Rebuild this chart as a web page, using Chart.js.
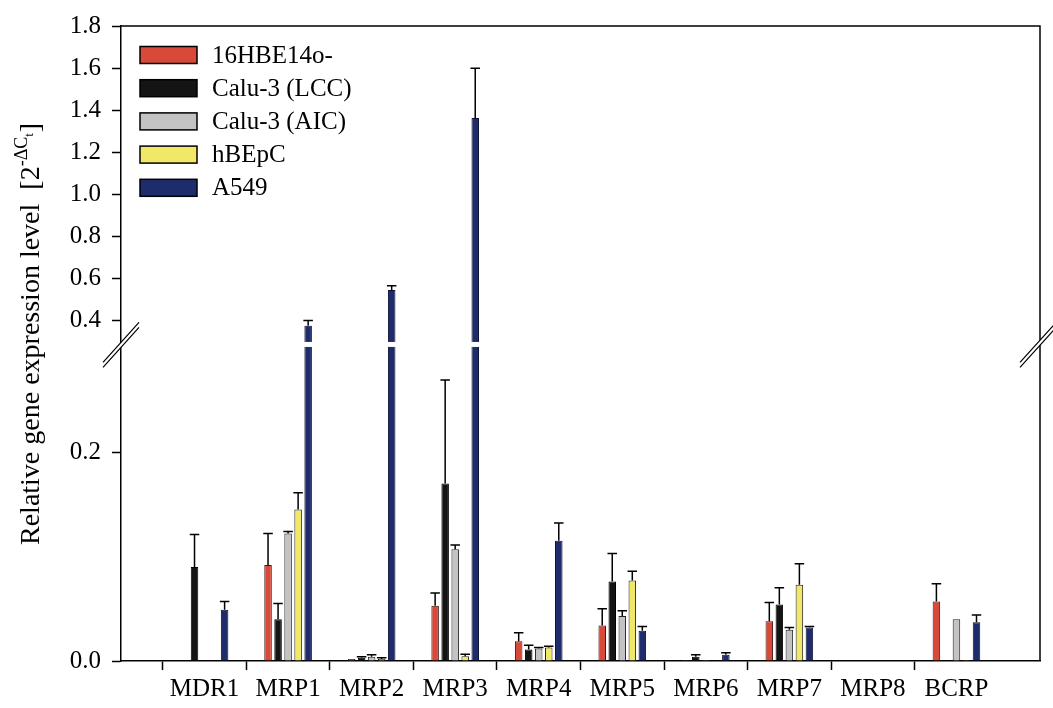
<!DOCTYPE html>
<html>
<head>
<meta charset="utf-8">
<script src="https://cdn.jsdelivr.net/npm/chart.js@4.4.0/dist/chart.umd.min.js"></script>
<style>
  html, body { margin: 0; padding: 0; background: #fff; }
</style>
</head>
<body>
<canvas id="chart" width="1053" height="708"></canvas>
<script>
const genes = ['MDR1', 'MRP1', 'MRP2', 'MRP3', 'MRP4', 'MRP5', 'MRP6', 'MRP7', 'MRP8', 'BCRP'];

// mean values (null = no bar)
const hbe14o    = [null,  0.092, 0.002, 0.053,  0.019, 0.034, 0.001, 0.038, 0.0005, 0.057];
const calu3LCC  = [0.090, 0.040, 0.003, 0.170,  0.011, 0.076, 0.004, 0.054, 0.0005, 0.001];
const calu3AIC  = [null,  0.122, 0.004, 0.107,  0.012, 0.043, 0.001, 0.030, 0.0005, 0.040];
const hBEpC     = [null,  0.145, 0.002, 0.0045, 0.013, 0.077, null,  0.073, 0.0005, 0.001];
const a549      = [0.049, 0.375, 0.545, 1.363,  0.115, 0.029, 0.006, 0.032, 0.0005, 0.037];

// upper error (SD)
const hbe14oErr   = [0,     0.030, 0,     0.012, 0.008, 0.016, 0,     0.018, 0, 0.017];
const calu3LCCErr = [0.031, 0.015, 0.001, 0.099, 0.004, 0.027, 0.002, 0.016, 0, 0];
const calu3AICErr = [0,     0.002, 0.002, 0.004, 0.001, 0.005, 0,     0.002, 0, 0];
const hBEpCErr    = [0,     0.016, 0.001, 0.002, 0.001, 0.009, 0,     0.020, 0, 0];
const a549Err     = [0.008, 0.025, 0.020, 0.236, 0.017, 0.004, 0.002, 0.001, 0, 0.007];

const yTickValues = [0, 0.2, 0.4, 0.6, 0.8, 1.0, 1.2, 1.4, 1.6, 1.8];
const yTickLabels = ['0.0', '0.2', '0.4', '0.6', '0.8', '1.0', '1.2', '1.4', '1.6', '1.8'];

// broken y axis: below 0.3 linear, above it compressed
function tf(v) {
    if (v == null) return null;
    return v <= 0.3 ? v : 0.326 + (v - 0.4) * 0.2013;
}
const BREAK_AT = 0.303;

// empty slot at each end so the groups sit one step away from the frame
function pad(arr) { return [null].concat(arr.map(tf), [null]); }
const labels = [''].concat(genes, ['']);

const FONT = 'Liberation Serif';

function ds(label, vals, errs, fill, border) {
    return {
        label: label,
        data: pad(vals),
        raw: vals,
        err: errs,
        backgroundColor: fill,
        borderColor: border,
        borderWidth: 1,
        borderSkipped: 'bottom',
        categoryPercentage: 0.6,
        barPercentage: 0.75
    };
}

const errorBars = {
    id: 'errorBars',
    afterDatasetsDraw(chart) {
        const ctx = chart.ctx;
        const y = chart.scales.y;
        ctx.save();
        ctx.strokeStyle = '#000';
        ctx.lineWidth = 1.5;
        chart.data.datasets.forEach((d, i) => {
            const meta = chart.getDatasetMeta(i);
            d.raw.forEach((v, j) => {
                const e = d.err[j];
                if (v == null || !e) return;
                const bar = meta.data[j + 1];
                const top = y.getPixelForValue(tf(v + e));
                const half = bar.width / 2 + 1;
                ctx.beginPath();
                ctx.moveTo(bar.x, bar.y);
                ctx.lineTo(bar.x, top);
                ctx.moveTo(bar.x - half, top);
                ctx.lineTo(bar.x + half, top);
                ctx.stroke();
            });
        });
        ctx.restore();
    }
};

const frameAndBreak = {
    id: 'frameAndBreak',
    afterDraw(chart) {
        const ctx = chart.ctx;
        const a = chart.chartArea;
        const by = chart.scales.y.getPixelForValue(BREAK_AT);
        ctx.save();
        // top and right edges of the frame
        ctx.strokeStyle = '#000';
        ctx.lineWidth = 1.5;
        ctx.beginPath();
        ctx.moveTo(a.left, a.top);
        ctx.lineTo(a.right, a.top);
        ctx.lineTo(a.right, a.bottom);
        ctx.stroke();
        // white gap through the bars
        ctx.fillStyle = '#fff';
        ctx.fillRect(a.left + 1, by - 2.5, a.right - a.left - 2, 5);
        // the // marks on both axes
        [a.left, a.right - 2].forEach(cx => {
            ctx.fillStyle = '#fff';
            ctx.beginPath();
            ctx.moveTo(cx - 18, by + 18);
            ctx.lineTo(cx + 18, by - 22);
            ctx.lineTo(cx + 18, by - 17);
            ctx.lineTo(cx - 18, by + 23);
            ctx.closePath();
            ctx.fill();
            ctx.strokeStyle = '#000';
            ctx.lineWidth = 1.2;
            ctx.beginPath();
            ctx.moveTo(cx - 18, by + 18);
            ctx.lineTo(cx + 18, by - 22);
            ctx.moveTo(cx - 18, by + 23);
            ctx.lineTo(cx + 18, by - 17);
            ctx.stroke();
        });
        ctx.restore();
    }
};

const boxLegend = {
    id: 'boxLegend',
    afterDraw(chart) {
        const ctx = chart.ctx;
        ctx.save();
        ctx.font = '25px "' + FONT + '"';
        ctx.textBaseline = 'middle';
        chart.data.datasets.forEach((d, i) => {
            const cy = 55 + i * 33.2;
            ctx.fillStyle = d.backgroundColor;
            ctx.fillRect(140, cy - 8.5, 57, 17);
            ctx.strokeStyle = '#000';
            ctx.lineWidth = 1.5;
            ctx.strokeRect(140, cy - 8.5, 57, 17);
            ctx.fillStyle = '#000';
            ctx.fillText(d.label, 212, cy + 1);
        });
        ctx.restore();
    }
};

const yTitle = {
    id: 'yTitle',
    afterDraw(chart) {
        const ctx = chart.ctx;
        ctx.save();
        ctx.translate(39, 545);
        ctx.rotate(-Math.PI / 2);
        ctx.fillStyle = '#000';
        ctx.textBaseline = 'alphabetic';
        ctx.font = '28px "' + FONT + '"';
        let x = 0;
        const main = 'Relative gene expression level  [2';
        ctx.fillText(main, x, 0);
        x += ctx.measureText(main).width;
        ctx.font = '18px "' + FONT + '"';
        ctx.fillText('-\u0394C', x, -12);
        x += ctx.measureText('-\u0394C').width;
        ctx.font = '13px "' + FONT + '"';
        ctx.fillText('t', x, -6);
        x += ctx.measureText('t').width + 1;
        ctx.font = '28px "' + FONT + '"';
        ctx.fillText(']', x, 0);
        ctx.restore();
    }
};

const ctx = document.getElementById('chart').getContext('2d');
new Chart(ctx, {
    type: 'bar',
    data: {
        labels: labels,
        datasets: [
            ds('16HBE14o-', hbe14o, hbe14oErr, '#d8493a', '#3a1410'),
            ds('Calu-3 (LCC)', calu3LCC, calu3LCCErr, '#141414', '#000'),
            ds('Calu-3 (AIC)', calu3AIC, calu3AICErr, '#c3c3c3', '#222'),
            ds('hBEpC', hBEpC, hBEpCErr, '#f1e868', '#222'),
            ds('A549', a549, a549Err, '#1f2c6c', '#0c1030')
        ]
    },
    options: {
        responsive: false,
        animation: false,
        devicePixelRatio: 1,
        layout: { padding: { left: 0, right: 13, top: 23, bottom: 0 } },
        plugins: {
            legend: { display: false },
            tooltip: { enabled: false }
        },
        scales: {
            x: {
                offset: false,
                afterFit: s => { s.height = 47; },
                grid: {
                    drawOnChartArea: false,
                    tickLength: 9,
                    tickWidth: 1.5,
                    tickColor: c => (c.index === 0 || c.index === labels.length - 1) ? 'rgba(0,0,0,0)' : '#000'
                },
                border: { color: '#000', width: 1.5 },
                ticks: {
                    color: '#000',
                    font: { family: FONT, size: 25 },
                    padding: 4,
                    maxRotation: 0,
                    autoSkip: false
                }
            },
            y: {
                min: 0,
                max: tf(1.8),
                afterFit: s => { s.width = 121; },
                afterBuildTicks: s => { s.ticks = yTickValues.map(v => ({ value: tf(v) })); },
                grid: {
                    drawOnChartArea: false,
                    tickLength: 9,
                    tickWidth: 1.5,
                    tickColor: '#000'
                },
                border: { color: '#000', width: 1.5 },
                ticks: {
                    color: '#000',
                    font: { family: FONT, size: 25 },
                    padding: 11,
                    callback: (val, i) => yTickLabels[i]
                }
            }
        }
    },
    plugins: [errorBars, frameAndBreak, boxLegend, yTitle]
});
</script>
</body>
</html>
